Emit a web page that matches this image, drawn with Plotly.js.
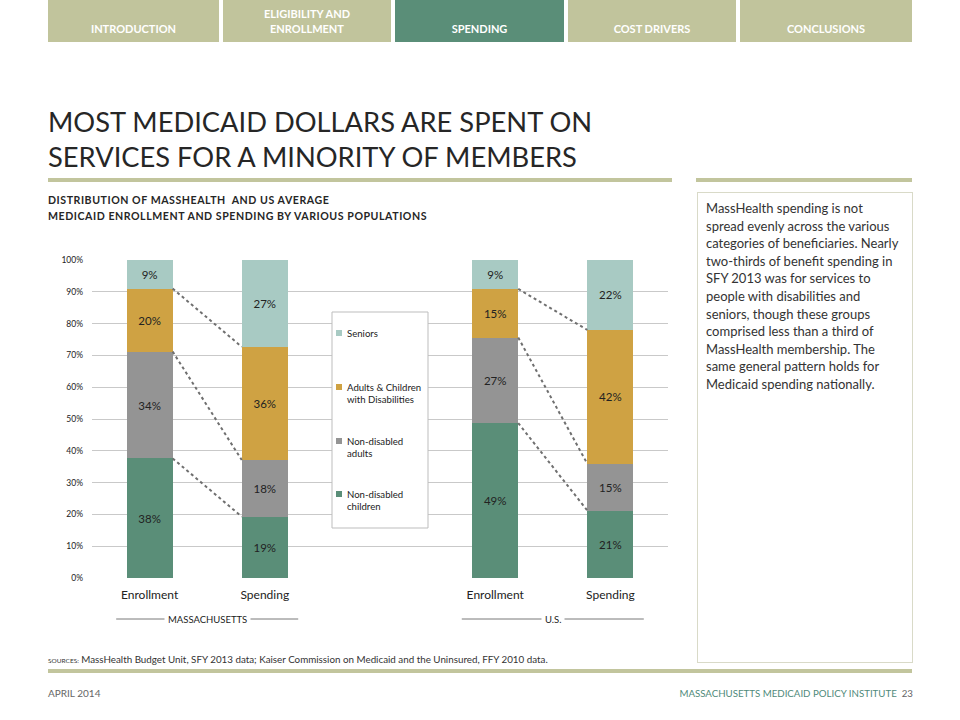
<!DOCTYPE html>
<html>
<head>
<meta charset="utf-8">
<script src="https://cdn.plot.ly/plotly-3.0.1.min.js"></script>
<style>
  html, body { margin: 0; padding: 0; background: #fff; }
  body { width: 960px; height: 720px; position: relative; overflow: hidden; font-family: Lato, "Open Sans", sans-serif; }
  #chart { position: absolute; left: 0; top: 0; width: 960px; height: 720px; }
  .ov { position: absolute; pointer-events: none; }
  .tab { position: absolute; top: 0; height: 42px; background: #c1c49c; color: #fff; font-weight: bold; font-size: 11px; text-align: center; display: flex; align-items: flex-end; justify-content: center; padding-bottom: 6px; box-sizing: border-box; line-height: 15px; }
  .tab.active { background: #5a8e78; }
  .rule { position: absolute; height: 4px; background: #c2c59d; }
</style>
</head>
<body>
<div id="chart"></div>

<div class="tab ov" style="left:48px;width:171px;">INTRODUCTION</div>
<div class="tab ov" style="left:223px;width:168px;">ELIGIBILITY AND<br>ENROLLMENT</div>
<div class="tab ov active" style="left:395px;width:169px;">SPENDING</div>
<div class="tab ov" style="left:568px;width:168px;">COST DRIVERS</div>
<div class="tab ov" style="left:740px;width:172px;">CONCLUSIONS</div>

<div class="ov" style="left:48px;top:104px;font-size:27.3px;line-height:35px;color:#262626;">MOST MEDICAID DOLLARS ARE SPENT ON<br>SERVICES FOR A MINORITY OF MEMBERS</div>
<div class="rule ov" style="left:48px;top:178px;width:624px;"></div>
<div class="rule ov" style="left:696px;top:178px;width:216px;"></div>

<div class="ov" style="left:48px;top:192px;font-size:10.6px;letter-spacing:0.55px;font-weight:bold;line-height:16px;color:#262626;white-space:nowrap;">DISTRIBUTION OF MASSHEALTH&nbsp; AND US AVERAGE<br>MEDICAID ENROLLMENT AND SPENDING BY VARIOUS POPULATIONS</div>

<div class="ov" style="left:697px;top:192px;width:216px;height:471px;border:1px solid #d9dac8;box-sizing:border-box;padding:7px 8px;font-size:13px;line-height:17.6px;color:#333;">MassHealth spending is not spread evenly across the various categories of beneficiaries. Nearly two-thirds of benefit spending in SFY 2013 was for services to people with disabilities and seniors, though these groups comprised less than a third of MassHealth membership. The same general pattern holds for Medicaid spending nationally.</div>

<div class="ov" style="left:48px;top:653px;font-size:9.8px;color:#333;white-space:nowrap;"><span style="font-size:6.5px;">SOURCES:</span> MassHealth Budget Unit, SFY 2013 data; Kaiser Commission on Medicaid and the Uninsured, FFY 2010 data.</div>
<div class="rule ov" style="left:48px;top:669px;width:864px;"></div>

<div class="ov" style="left:48px;top:687px;font-size:10px;color:#666;">APRIL 2014</div>
<div class="ov" style="right:47px;top:687px;font-size:9.7px;color:#4f8a7a;white-space:nowrap;">MASSACHUSETTS MEDICAID POLICY INSTITUTE&nbsp; <span style="color:#666;">23</span></div>

<script>
// ---- data ----
const groups = ['MASSACHUSETTS', 'U.S.'];
const categories = ['Enrollment', 'Spending', 'Enrollment', 'Spending'];
const seriesNames = ['Non-disabled children', 'Non-disabled adults', 'Adults & Children with Disabilities', 'Seniors'];
const legendLabels = ['Non-disabled<br>children', 'Non-disabled<br>adults', 'Adults & Children<br>with Disabilities', 'Seniors'];
const children = [37.6, 19.3, 48.7, 21.2];
const adults = [33.6, 17.8, 26.9, 14.7];
const disabled = [19.8, 35.6, 15.3, 42.1];
const seniors = [9.0, 27.3, 9.1, 22.0];
const yTicks = [0, 10, 20, 30, 40, 50, 60, 70, 80, 90, 100];

// ---- styles ----
const colors = ['#5a8e78', '#949494', '#cfa243', '#a8cac3'];
const series = [children, adults, disabled, seniors];
const xSlot = categories.map((c, i) => Math.floor(i / 2) * 3 + (i % 2));
const barW = 0.4;

const traces = series.map((vals, s) => ({
  type: 'bar', name: seriesNames[s], x: xSlot, y: vals,
  width: barW, marker: { color: colors[s], line: { width: 0 } },
  texttemplate: '%{y:.0f}%', textposition: 'inside', insidetextanchor: 'middle',
  constraintext: 'none', textangle: 0,
  textfont: { family: 'Lato, sans-serif', size: 11.5, color: '#222' },
  hoverinfo: 'skip', showlegend: false
}));

// cumulative tops for connector lines
const cum = [];
series.forEach((vals, s) => {
  cum.push(vals.map((v, i) => (s ? cum[s - 1][i] : 0) + v));
});
for (let s = 0; s < 3; s++) {
  for (let g = 0; g < groups.length; g++) {
    const a = g * 2, b = g * 2 + 1;
    traces.push({
      type: 'scatter', mode: 'lines',
      x: [xSlot[a] + barW / 2, xSlot[b] - barW / 2],
      y: [cum[s][a], cum[s][b]],
      line: { color: '#6f6f6f', width: 2, dash: 'dot' },
      hoverinfo: 'skip', showlegend: false
    });
  }
}

// layout geometry (pixels)
const L = 92, R = 668, T = 260, B = 578;
const xr = [-0.5, 4.5];
const px2x = p => xr[0] + (p - L) / (R - L) * (xr[1] - xr[0]);
const py2paper = p => (B - p) / (B - T);

const shapes = [];
const annotations = [];

// custom legend box
shapes.push({ type: 'rect', xref: 'x', yref: 'paper', layer: 'above',
  x0: px2x(332), x1: px2x(428), y0: py2paper(528), y1: py2paper(312),
  fillcolor: '#fff', line: { color: '#bdbdbd', width: 1 } });
const legendY = [494, 441, 387, 333];
for (let s = 3; s >= 0; s--) {
  const cy = legendY[s];
  shapes.push({ type: 'rect', xref: 'x', yref: 'paper', layer: 'above',
    x0: px2x(336), x1: px2x(342), y0: py2paper(cy + 3), y1: py2paper(cy - 3),
    fillcolor: colors[s], line: { width: 0 } });
  annotations.push({ xref: 'x', yref: 'paper', x: px2x(345), y: py2paper(cy - 7),
    xanchor: 'left', yanchor: 'top', align: 'left', showarrow: false,
    text: legendLabels[s], font: { family: 'Lato, sans-serif', size: 9.6, color: '#222' } });
}

// group labels with rules
groups.forEach((g, gi) => {
  const c = gi * 3 + 0.5;
  shapes.push({ type: 'line', xref: 'x', yref: 'paper', x0: c - 0.79, x1: c + 0.79,
    y0: py2paper(619), y1: py2paper(619), line: { color: '#555', width: 0.8 } });
  annotations.push({ xref: 'x', yref: 'paper', x: c, y: py2paper(619), showarrow: false,
    xanchor: 'center', yanchor: 'middle',
    text: g, bgcolor: '#fff', borderpad: 3,
    font: { family: 'Lato, sans-serif', size: 9.5, color: '#222' } });
});

const layout = {
  width: 960, height: 720,
  margin: { l: L, r: 960 - R, t: T, b: 720 - B, pad: 0 },
  paper_bgcolor: 'rgba(0,0,0,0)', plot_bgcolor: '#fff',
  barmode: 'stack', showlegend: false,
  font: { family: 'Lato, sans-serif', color: '#222' },
  xaxis: { range: xr, tickvals: xSlot, ticktext: categories, showgrid: false,
    zeroline: false, showline: false, ticks: '', fixedrange: true, ticklabelstandoff: 8,
    tickfont: { size: 12, color: '#222' } },
  yaxis: { range: [0, 100], tickvals: yTicks, ticktext: yTicks.map(v => v + '%'),
    showgrid: true, gridcolor: '#c9c9c9', gridwidth: 1, zeroline: false, showline: false,
    ticks: '', ticklabelstandoff: 8, fixedrange: true,
    tickfont: { size: 8.5, color: '#222' } },
  shapes: shapes, annotations: annotations
};

Plotly.newPlot('chart', traces, layout, { staticPlot: true, displayModeBar: false });
</script>
</body>
</html>
